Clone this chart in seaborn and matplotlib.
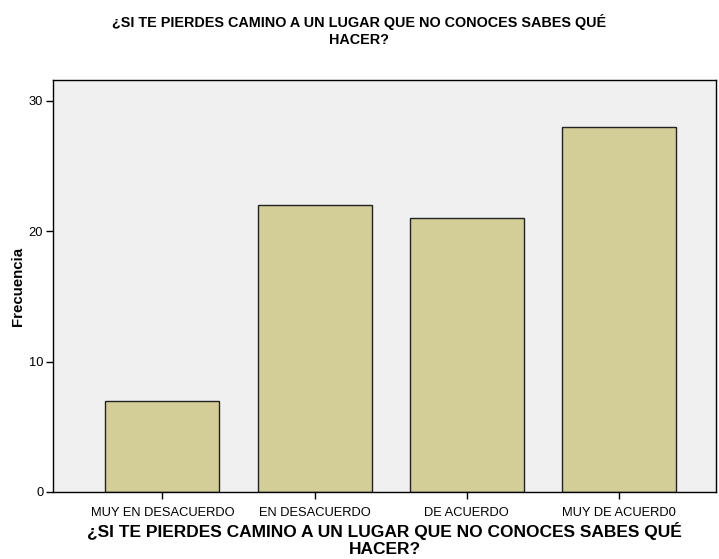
import pandas as pd
import matplotlib.pyplot as plt
import seaborn as sns

categorias = ["MUY EN DESACUERDO", "EN DESACUERDO", "DE ACUERDO", "MUY DE ACUERD0"]
frecuencias = [7, 22, 21, 28]
titulo = "¿SI TE PIERDES CAMINO A UN LUGAR QUE NO CONOCES SABES QUÉ\nHACER?"

df = pd.DataFrame({"categoria": categorias, "frecuencia": frecuencias})

sns.set_style("white")
plt.rcParams['font.family'] = ['Liberation Sans', 'DejaVu Sans']
plt.rcParams['text.color'] = 'black'
plt.rcParams['axes.labelcolor'] = 'black'
plt.rcParams['xtick.color'] = 'black'
plt.rcParams['ytick.color'] = 'black'

fig = plt.figure(figsize=(7.19, 5.59), dpi=100)
ax = fig.add_axes([0.0737, 0.1199, 0.9221, 0.7371])
ax.set_facecolor("#F0F0F0")

sns.barplot(data=df, x="categoria", y="frecuencia", color="#D3CE97",
            edgecolor="#222222", linewidth=1.0, width=0.75, saturation=1, ax=ax)

ax.set_xlim(-0.72, 3.64)
ax.set_ylim(0, 31.6)
ax.set_yticks([0, 10, 20, 30])
ax.tick_params(axis="both", direction="out", length=5, width=1, color="black",
               labelsize=9.3, left=True, bottom=True)
ax.tick_params(axis="x", pad=6)
ax.tick_params(axis="y", pad=2)
for s in ax.spines.values():
    s.set_color("black")
    s.set_linewidth(1)

ax.set_ylabel("Frecuencia", fontsize=10.8, fontweight="bold", labelpad=3)
ax.set_xlabel(titulo, fontsize=12.5, fontweight="bold", labelpad=2, linespacing=1.15)
fig.suptitle(titulo, fontsize=10.4, fontweight="bold", y=0.975, linespacing=1.3)

plt.savefig("out.png", dpi=100)
